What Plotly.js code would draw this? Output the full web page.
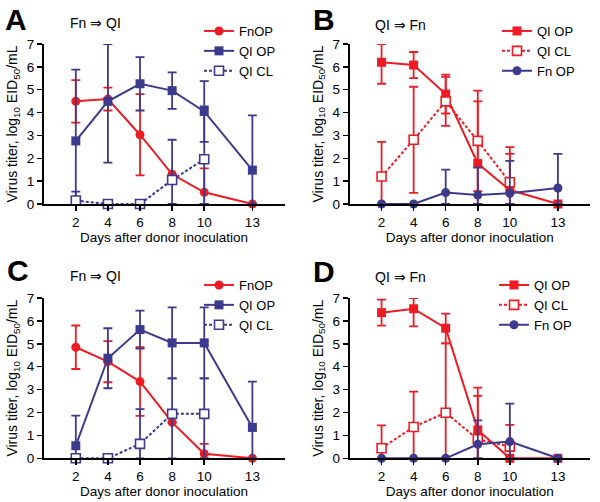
<!DOCTYPE html>
<html><head><meta charset="utf-8">
<script src="https://cdn.plot.ly/plotly-3.0.1.min.js"></script>
<style>html,body{margin:0;padding:0;background:#fff}#chart{width:600px;height:502px}</style>
</head><body><div id="chart"></div>
<script>
// ---- data ----
const days = [2, 4, 6, 8, 10, 13];
const yTicks = [0, 1, 2, 3, 4, 5, 6, 7];

// Panel A: Fn => QI
const A_FnOP = [4.49, 4.59, 3.03, 1.30, 0.51, 0];
const A_FnOP_err = [0.93, 0.50, 1.78, 0, 1.05, 0];
const A_QIOP = [2.76, 4.49, 5.26, 4.96, 4.05, 1.48];
const A_QIOP_err = [3.12, 2.68, 1.17, 0.80, 1.33, 2.40];
const A_QICL = [0.15, 0, 0, 1.05, 1.96, null];
const A_QICL_err = [0.39, 0, 0, 1.76, 2.31, null];

// Panel B: QI => Fn
const B_QIOP = [6.20, 6.08, 4.81, 1.77, 0.61, 0];
const B_QIOP_err = [0.94, 0.57, 0.85, 2.72, 1.58, 0];
const B_QICL = [1.20, 2.81, 4.49, 2.76, 0.95, null];
const B_QICL_err = [1.52, 2.32, 1.07, 2.20, 1.54, null];
const B_FnOP = [0, 0, 0.50, 0.39, 0.47, 0.70];
const B_FnOP_err = [0, 0, 1.00, 1.20, 1.42, 1.49];

// Panel C: Fn => QI
const C_FnOP = [4.85, 4.22, 3.35, 1.57, 0.20, 0];
const C_FnOP_err = [0.95, 0.90, 1.50, 0, 0.43, 0];
const C_QIOP = [0.55, 4.37, 5.62, 5.04, 5.04, 1.35];
const C_QIOP_err = [1.31, 1.31, 0.83, 1.55, 1.55, 2.00];
const C_QICL = [0, 0, 0.63, 1.94, 1.94, null];
const C_QICL_errUp = [0, 0, 1.52, 1.55, 1.55, null];
const C_QICL_errDown = [0, 0, 0.63, 1.94, 1.94, null];

// Panel D: QI => Fn
const D_QIOP = [6.36, 6.53, 5.68, 1.24, 0, 0];
const D_QIOP_errUp = [0.57, 0.47, 0.64, 1.85, 0, 0];
const D_QIOP_errDown = [0.57, 0.77, 0.66, 1.85, 0, 0];
const D_QICL = [0.44, 1.37, 1.99, 0.83, 0.51, null];
const D_QICL_err = [1.00, 1.54, 3.03, 1.90, 0.95, null];
const D_FnOP = [0, 0, 0, 0.61, 0.73, 0];
const D_FnOP_err = [0, 0, 0, 1.05, 1.66, 0];

// ---- styles ----
const RED = '#ED1C24';
const NAVY = '#3B3A8C';
const FONT = 'Arial, "Liberation Sans", Helvetica, sans-serif';
const YMAX = 7;

const styles = {
  redCircle:  {color: RED,  symbol: 'circle', fill: RED,  size: 9, dash: 'solid'},
  redSquare:  {color: RED,  symbol: 'square', fill: RED,  size: 9, dash: 'solid'},
  redOpen:    {color: RED,  symbol: 'square', fill: '#fff', size: 9, dash: '3px,2px'},
  navyCircle: {color: NAVY, symbol: 'circle', fill: NAVY, size: 9, dash: 'solid'},
  navySquare: {color: NAVY, symbol: 'square', fill: NAVY, size: 9, dash: 'solid'},
  navyOpen:   {color: NAVY, symbol: 'square', fill: '#fff', size: 9, dash: '3px,2px'}
};

function trace(name, y, up, down, st, n, legend) {
  down = down || up;
  const plus = y.map((v, i) => v == null ? null : Math.min(up[i], YMAX - v));
  const minus = y.map((v, i) => v == null ? null : Math.min(down[i], v));
  return {
    type: 'scatter', mode: 'lines+markers', name: name,
    x: days, y: y, xaxis: 'x' + (n === 1 ? '' : n), yaxis: 'y' + (n === 1 ? '' : n),
    legend: legend, cliponaxis: false, connectgaps: false,
    line: {color: st.color, width: 2, dash: st.dash},
    marker: {symbol: st.symbol, size: st.size, color: st.fill, line: {color: st.color, width: st.fill === '#fff' ? 1.6 : 0}},
    error_y: {type: 'data', symmetric: false, array: plus, arrayminus: minus,
              color: st.color, thickness: 1.8, width: 4.5, visible: true},
    hoverinfo: 'x+y'
  };
}

const data = [
  trace('FnOP',  A_FnOP, A_FnOP_err, null, styles.redCircle, 1, 'legend'),
  trace('QI OP', A_QIOP, A_QIOP_err, null, styles.navySquare, 1, 'legend'),
  trace('QI CL', A_QICL, A_QICL_err, null, styles.navyOpen, 1, 'legend'),

  trace('QI OP', B_QIOP, B_QIOP_err, null, styles.redSquare, 2, 'legend2'),
  trace('QI CL', B_QICL, B_QICL_err, null, styles.redOpen, 2, 'legend2'),
  trace('Fn OP', B_FnOP, B_FnOP_err, null, styles.navyCircle, 2, 'legend2'),

  trace('FnOP',  C_FnOP, C_FnOP_err, null, styles.redCircle, 3, 'legend3'),
  trace('QI OP', C_QIOP, C_QIOP_err, null, styles.navySquare, 3, 'legend3'),
  trace('QI CL', C_QICL, C_QICL_errUp, C_QICL_errDown, styles.navyOpen, 3, 'legend3'),

  trace('QI OP', D_QIOP, D_QIOP_errUp, D_QIOP_errDown, styles.redSquare, 4, 'legend4'),
  trace('QI CL', D_QICL, D_QICL_err, null, styles.redOpen, 4, 'legend4'),
  trace('Fn OP', D_FnOP, D_FnOP_err, null, styles.navyCircle, 4, 'legend4')
];

// ---- layout ----
const W = 600, H = 502;
const px = x => x / W;
const py = y => 1 - y / H;

function xAxis(l, r, anchor) {
  return {
    domain: [px(l), px(r)], anchor: anchor, range: [0, 15],
    tickvals: days, ticktext: days.map(String),
    ticks: 'outside', ticklen: 5, tickwidth: 1.5, tickcolor: '#000',
    showline: true, linecolor: '#000', linewidth: 1.7,
    showgrid: false, zeroline: false,
    tickfont: {family: FONT, size: 13.5, color: '#000'},
    title: {text: 'Days after donor inoculation', font: {family: FONT, size: 13.5, color: '#000'}, standoff: 0},
    fixedrange: true
  };
}
function yAxis(b, t, anchor) {
  return {
    domain: [py(b), py(t)], anchor: anchor, range: [0, 7],
    tickvals: yTicks,
    ticks: 'outside', ticklen: 5, tickwidth: 1.5, tickcolor: '#000',
    showline: true, linecolor: '#000', linewidth: 1.7,
    showgrid: false, zeroline: false,
    tickfont: {family: FONT, size: 13.5, color: '#000'},
    title: {text: 'Virus titer, log<sub>10</sub> EID<sub>50</sub>/mL', font: {family: FONT, size: 14, color: '#000'}, standoff: 6},
    fixedrange: true
  };
}
function legendAt(x, y) {
  return {x: px(x), y: py(y), xanchor: 'left', yanchor: 'top',
          bgcolor: 'rgba(0,0,0,0)', borderwidth: 0,
          font: {family: FONT, size: 13, color: '#000'},
          tracegroupgap: 0, itemwidth: 30, itemclick: false, itemdoubleclick: false};
}
function note(text, x, y, size, bold) {
  return {text: bold ? '<b>' + text + '</b>' : text, xref: 'paper', yref: 'paper',
          x: px(x), y: py(y), xanchor: 'left', yanchor: 'middle', showarrow: false,
          font: {family: FONT, size: size, color: '#000'}};
}

const layout = {
  width: W, height: H,
  margin: {l: 0, r: 0, t: 0, b: 0},
  paper_bgcolor: '#fff', plot_bgcolor: '#fff',
  font: {family: FONT, color: '#000'},
  showlegend: true,
  xaxis:  xAxis(43.7, 284.5, 'y'),
  yaxis:  yAxis(204, 44, 'x'),
  xaxis2: xAxis(349.5, 590, 'y2'),
  yaxis2: yAxis(204, 44, 'x2'),
  xaxis3: xAxis(43.7, 284.5, 'y3'),
  yaxis3: yAxis(458.3, 298, 'x3'),
  xaxis4: xAxis(349.5, 590, 'y4'),
  yaxis4: yAxis(458.3, 298, 'x4'),
  legend:  legendAt(199, 16),
  legend2: legendAt(497, 16),
  legend3: legendAt(199, 270),
  legend4: legendAt(494, 270),
  annotations: [
    note('A', 3, 20, 30, true),
    note('Fn \u21D2 QI', 68, 23, 14, false),
    note('B', 311, 20, 30, true),
    note('QI \u21D2 Fn', 373, 25, 14, false),
    note('C', 5, 270, 30, true),
    note('Fn \u21D2 QI', 68, 276, 14, false),
    note('D', 311, 271, 30, true),
    note('QI \u21D2 Fn', 373, 277, 14, false)
  ]
};

Plotly.newPlot('chart', data, layout, {displayModeBar: false, staticPlot: true});
</script>
</body></html>
